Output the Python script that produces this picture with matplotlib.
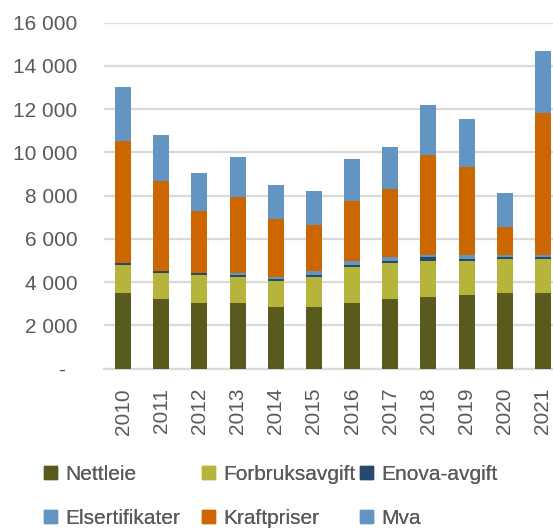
import numpy as np
import matplotlib
matplotlib.use("Agg")
import matplotlib.pyplot as plt
from matplotlib.patches import Patch
from matplotlib.ticker import FuncFormatter

years = ["2010", "2011", "2012", "2013", "2014", "2015",
         "2016", "2017", "2018", "2019", "2020", "2021"]
nettleie = [3510, 3220, 3050, 3050, 2850, 2850, 3030, 3220, 3310, 3400, 3500, 3500]
forbruksavgift = [1295, 1200, 1280, 1190, 1200, 1390, 1670, 1665, 1670, 1575, 1575, 1575]
enova = [80, 95, 90, 80, 95, 95, 95, 95, 185, 90, 95, 95]
elsertifikater = [0, 0, 0, 105, 90, 185, 185, 185, 95, 185, 95, 95]
kraftpriser = [5645, 4165, 2870, 3520, 2685, 2125, 2775, 3150, 4625, 4075, 1295, 6575]
mva = [2500, 2130, 1760, 1850, 1570, 1580, 1950, 1940, 2320, 2220, 1580, 2870]

names = ["Nettleie", "Forbruksavgift", "Enova-avgift",
         "Elsertifikater", "Kraftpriser", "Mva"]
series = [nettleie, forbruksavgift, enova, elsertifikater, kraftpriser, mva]
colors = ["#595A1E", "#B7B43C", "#264A6B", "#6295C1", "#CC6600", "#6295C1"]

txt = "#595959"
plt.rcParams["font.family"] = ["Liberation Sans", "DejaVu Sans"]
plt.rcParams["font.size"] = 15

fig = plt.figure(figsize=(5.53, 5.28), dpi=100)
ax = fig.add_axes([104 / 553, (528 - 368.5) / 528, 458 / 553, 345.8 / 528])

x = np.arange(len(years))
bottom = np.zeros(len(years))
for vals, c in zip(series, colors):
    ax.bar(x, vals, 0.42, bottom=bottom, color=c, zorder=3)
    bottom += np.array(vals)

ax.set_xlim(-0.5, len(years) - 0.5)
ax.set_ylim(0, 16000)
ax.set_yticks(range(0, 16001, 2000))
ax.yaxis.set_major_formatter(FuncFormatter(
    lambda v, p: "-  " if v == 0 else f"{int(v):,}".replace(",", " ")))
ax.set_xticks(x)
ax.set_xticklabels(years, rotation=90)
ax.tick_params(axis="y", length=0, pad=19, colors=txt)
ax.tick_params(axis="x", length=0, pad=14, colors=txt)
ax.grid(axis="y", color="#D9D9D9", linewidth=1.6, zorder=0)
for s in ["top", "right", "left"]:
    ax.spines[s].set_visible(False)
ax.spines["bottom"].set_color("#D9D9D9")
ax.spines["bottom"].set_linewidth(1.6)

# legend: three columns, two rows, placed like the original
col_x = [44, 202, 360]
for i in range(3):
    handles = [Patch(color=colors[i]), Patch(color=colors[i + 3])]
    leg = fig.legend(handles, [names[i], names[i + 3]],
                     loc="upper left", bbox_to_anchor=(col_x[i] / 553, 1 - 465 / 528),
                     frameon=False, handlelength=0.62, handleheight=0.62,
                     handletextpad=0.4, labelspacing=1.2, borderpad=0,
                     borderaxespad=0, labelcolor=txt)
    fig.add_artist(leg)

fig.savefig("out.png", dpi=100)
